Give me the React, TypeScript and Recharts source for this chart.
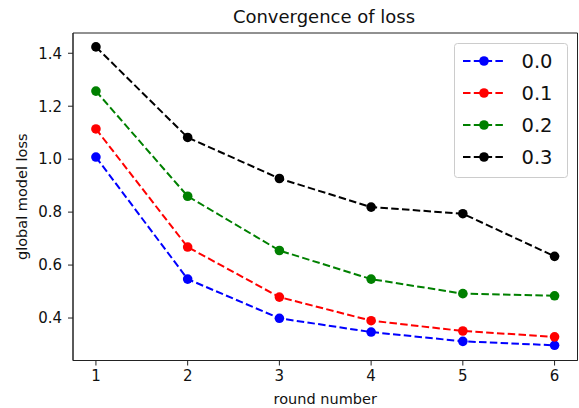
import React from 'react';
import { LineChart, Line, XAxis, YAxis, Legend, ReferenceArea } from 'recharts';

const rounds = [1, 2, 3, 4, 5, 6];
const loss00 = [1.008, 0.547, 0.399, 0.347, 0.312, 0.297];
const loss01 = [1.114, 0.668, 0.479, 0.39, 0.351, 0.329];
const loss02 = [1.257, 0.86, 0.655, 0.547, 0.492, 0.484];
const loss03 = [1.424, 1.082, 0.927, 0.819, 0.794, 0.633];

const seriesKeys = ['s0', 's1', 's2', 's3'];
const seriesNames = ['0.0', '0.1', '0.2', '0.3'];
const seriesColors = ['#0000ff', '#ff0000', '#008000', '#000000'];

const xTicks = [1, 2, 3, 4, 5, 6];
const yTicks = [0.4, 0.6, 0.8, 1.0, 1.2, 1.4];
const xDomain = [0.75, 6.25];
const yDomain = [0.2396, 1.4765];

const titleText = 'Convergence of loss';
const xLabelText = 'round number';
const yLabelText = 'global model loss';

const data = rounds.map((r, i) => ({
  round: r,
  s0: loss00[i],
  s1: loss01[i],
  s2: loss02[i],
  s3: loss03[i],
}));

const FONT = '"DejaVu Sans", sans-serif';
const TEXT = '#111';
const DASH = '7.5 3.3';

const LegendBox = (props: any) => {
  const payload = (props.payload || []) as any[];
  const items = payload.length
    ? payload.map((p: any) => ({ name: p.value, color: p.color }))
    : seriesNames.map((n, i) => ({ name: n, color: seriesColors[i] }));
  return (
    <svg width={115} height={136} style={{ display: 'block', overflow: 'visible' }}>
      <rect x={0.5} y={0.5} width={113} height={134} rx={3} fill="rgba(255,255,255,0.8)" stroke="#cccccc" strokeWidth={1} />
      {items.map((it, i) => {
        const cy = 18 + i * 32;
        return (
          <g key={it.name}>
            <line x1={9} x2={51} y1={cy} y2={cy} stroke={it.color} strokeWidth={2} strokeDasharray={DASH} />
            <circle cx={30} cy={cy} r={4.8} fill={it.color} />
            <text x={67.5} y={cy} dy="0.36em" fontSize={19.5} fontFamily={FONT} fill={TEXT}>
              {it.name}
            </text>
          </g>
        );
      })}
    </svg>
  );
};

const XLabel = (props: any) => {
  const vb = props.viewBox || { x: 73, y: 360.5, width: 504.5, height: 30 };
  return (
    <text x={vb.x + vb.width / 2} y={vb.y + 43.5} textAnchor="middle" fontSize={14.5} fontFamily={FONT} fill={TEXT}>
      {xLabelText}
    </text>
  );
};

const YLabel = (props: any) => {
  const vb = props.viewBox || { x: 13, y: 33, width: 60, height: 327.5 };
  const cx = vb.x + 9.5;
  const cy = vb.y + vb.height / 2;
  return (
    <text x={cx} y={cy} dy="0.3em" transform={`rotate(-90 ${cx} ${cy})`} textAnchor="middle" fontSize={14.5} fontFamily={FONT} fill={TEXT}>
      {yLabelText}
    </text>
  );
};

export default function App() {
  return (
    <div style={{ position: 'absolute', left: 0, top: 0, width: 579, height: 408, background: '#fff' }}>
      <svg width={579} height={30} style={{ position: 'absolute', left: 0, top: 0 }}>
        <text x={324} y={23} textAnchor="middle" fontSize={18} fontFamily={FONT} fill={TEXT}>
          {titleText}
        </text>
      </svg>
      <LineChart
        width={579}
        height={408}
        data={data}
        margin={{ top: 33, right: 1.5, bottom: 17.5, left: 13 }}
        style={{ position: 'absolute', left: 0, top: 0 }}
      >
        <XAxis
          dataKey="round"
          type="number"
          domain={xDomain}
          ticks={xTicks}
          allowDataOverflow
          height={30}
          tickSize={5}
          tickMargin={5}
          axisLine={{ stroke: '#222', strokeWidth: 1 }}
          tickLine={{ stroke: '#222', strokeWidth: 1 }}
          tick={{ fill: TEXT, fontSize: 15, fontFamily: FONT }}
          label={<XLabel />}
        />
        <YAxis
          type="number"
          domain={yDomain}
          ticks={yTicks}
          allowDataOverflow
          width={60}
          tickSize={5}
          tickMargin={6}
          tickFormatter={(v: number) => v.toFixed(1)}
          axisLine={{ stroke: '#222', strokeWidth: 1 }}
          tickLine={{ stroke: '#222', strokeWidth: 1 }}
          tick={{ fill: TEXT, fontSize: 15, fontFamily: FONT }}
          label={<YLabel />}
        />
        <ReferenceArea
          x1={xDomain[0]}
          x2={xDomain[1]}
          y1={yDomain[0]}
          y2={yDomain[1]}
          fill="none"
          fillOpacity={0}
          stroke="#222"
          strokeWidth={1}
          ifOverflow="extendDomain"
        />
        <Legend
          layout="horizontal"
          align="center"
          verticalAlign="middle"
          content={<LegendBox />}
          wrapperStyle={{ position: 'absolute', left: 454, top: 43, width: 115, height: 136, right: 'auto', bottom: 'auto' }}
        />
        {seriesKeys.map((k, i) => (
          <Line
            key={k}
            dataKey={k}
            name={seriesNames[i]}
            type="linear"
            stroke={seriesColors[i]}
            strokeWidth={2}
            strokeDasharray={DASH}
            dot={{ r: 4.8, fill: seriesColors[i], stroke: 'none', strokeWidth: 0 }}
            activeDot={false}
            isAnimationActive={false}
          />
        ))}
      </LineChart>
    </div>
  );
}
